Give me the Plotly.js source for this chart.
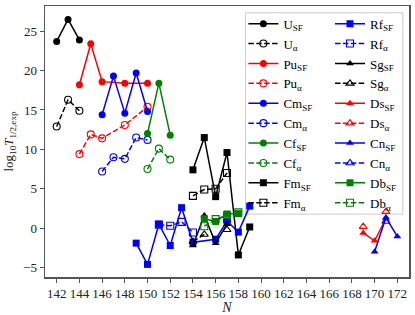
<!DOCTYPE html>
<html><head><meta charset="utf-8">
<script src="https://cdn.plot.ly/plotly-3.0.1.min.js"></script>
<style>html,body{margin:0;padding:0;background:#fff}#c{width:415px;height:315px}</style>
</head><body><div id="c"></div>
<script>
// Data
const N_U = [142,143,144];
const U_SF = [23.7,26.5,23.9];
const U_a = [12.9,16.3,14.9];
const N_Pu = [144,145,146,148,150];
const Pu_SF = [18.2,23.4,18.6,18.4,18.4];
const Pu_a = [9.4,11.9,11.4,13.1,15.4];
const N_Cm = [146,147,148,149,150];
const Cm_SF = [14.4,19.3,14.6,19.7,14.8];
const Cm_a = [7.2,9.0,8.8,11.5,11.2];
const N_Cf = [150,151,152];
const Cf_SF = [12.0,18.4,11.8];
const Cf_a = [7.5,10.1,8.7];
const N_Fm_SF = [154,155,156,157,158,159];
const Fm_SF = [7.4,11.5,4.0,9.6,-3.4,0.15];
const N_Fm_a = [154,155,156,157];
const Fm_a = [4.1,4.9,5.0,7.0];
const N_Rf_SF = [149,150,151,152,153,154,156,157,158,159];
const Rf_SF = [-1.9,-4.6,0.5,-2.2,2.6,-1.8,-1.4,0.9,-0.5,2.8];
const N_Rf_a = [151,152,153,154,155,156,157];
const Rf_a = [0.45,0.3,0.8,-0.55,null,null,1.2];
const N_Sg = [154,155,156,157];
const Sg_SF = [-2.2,1.6,-1.9,0.5];
const Sg_a = [-1.7,-0.8,null,-0.2];
const N_Ds = [169,170,171];
const Ds_SF = [-0.6,-1.6,1.2];
const Ds_a = [0.2,null,2.1];
const N_Cn_SF = [170,171,172];
const Cn_SF = [-3.0,1.35,-1.05];
const N_Cn_a = [171];
const Cn_a = [0.85];
const N_Db = [155,156,157,158];
const Db_SF = [1.2,0.85,1.8,1.85];
const Db_a = [0.25,1.15,1.6,2.0];
const xTicks = [142,144,146,148,150,152,154,156,158,160,162,164,166,168,170,172];
const yTicks = [-5,0,5,10,15,20,25];

const FONT = 'Liberation Serif, DejaVu Serif, serif';
const DASH = '5.5px,2.4px';
function tr(x, y, name, color, sym, alpha, legend){
  return {
    x: x, y: y, name: name, type: 'scatter', mode: 'lines+markers',
    connectgaps: false, legend: legend,
    line: {color: color, width: 1.5, dash: alpha ? DASH : 'solid'},
    marker: alpha ? {symbol: sym + '-open', size: 7, color: color, line: {color: color, width: 1.1}}
                  : {symbol: sym, size: 7, color: color, line: {width: 0}}
  };
}
const K='#000000', R='#ff0000', B='#0000ff', G='#008000';
const data = [
  tr(N_U, U_SF, 'U<sub>SF</sub>', K, 'circle', false, 'legend'),
  tr(N_U, U_a, 'U<sub>α</sub>', K, 'circle', true, 'legend'),
  tr(N_Pu, Pu_SF, 'Pu<sub>SF</sub>', R, 'circle', false, 'legend'),
  tr(N_Pu, Pu_a, 'Pu<sub>α</sub>', R, 'circle', true, 'legend'),
  tr(N_Cm, Cm_SF, 'Cm<sub>SF</sub>', B, 'circle', false, 'legend'),
  tr(N_Cm, Cm_a, 'Cm<sub>α</sub>', B, 'circle', true, 'legend'),
  tr(N_Cf, Cf_SF, 'Cf<sub>SF</sub>', G, 'circle', false, 'legend'),
  tr(N_Cf, Cf_a, 'Cf<sub>α</sub>', G, 'circle', true, 'legend'),
  tr(N_Fm_SF, Fm_SF, 'Fm<sub>SF</sub>', K, 'square', false, 'legend'),
  tr(N_Fm_a, Fm_a, 'Fm<sub>α</sub>', K, 'square', true, 'legend'),
  tr(N_Rf_SF, Rf_SF, 'Rf<sub>SF</sub>', B, 'square', false, 'legend2'),
  tr(N_Rf_a, Rf_a, 'Rf<sub>α</sub>', B, 'square', true, 'legend2'),
  tr(N_Sg, Sg_SF, 'Sg<sub>SF</sub>', K, 'triangle-up', false, 'legend2'),
  tr(N_Sg, Sg_a, 'Sg<sub>α</sub>', K, 'triangle-up', true, 'legend2'),
  tr(N_Ds, Ds_SF, 'Ds<sub>SF</sub>', R, 'triangle-up', false, 'legend2'),
  tr(N_Ds, Ds_a, 'Ds<sub>α</sub>', R, 'triangle-up', true, 'legend2'),
  tr(N_Cn_SF, Cn_SF, 'Cn<sub>SF</sub>', B, 'triangle-up', false, 'legend2'),
  tr(N_Cn_a, Cn_a, 'Cn<sub>α</sub>', B, 'triangle-up', true, 'legend2'),
  tr(N_Db, Db_SF, 'Db<sub>SF</sub>', G, 'square', false, 'legend2'),
  tr(N_Db, Db_a, 'Db<sub>α</sub>', G, 'square', true, 'legend2')
];
const legendCommon = {bgcolor: 'rgba(0,0,0,0)', borderwidth: 0, font: {family: FONT, size: 13, color: '#000'},
  xanchor: 'left', yanchor: 'top', traceorder: 'normal', itemwidth: 30, tracegroupgap: 0};
const axisCommon = {showgrid: false, zeroline: false, showline: true, mirror: true, linecolor: '#555', linewidth: 1.5,
  ticks: 'outside', ticklen: 4, tickwidth: 1, tickcolor: '#555', tickfont: {family: FONT, size: 13, color: '#222'}};
const layout = {
  width: 415, height: 315, margin: {l: 45, r: 6, t: 6, b: 38},
  paper_bgcolor: '#fff', plot_bgcolor: '#fff', showlegend: true,
  xaxis: Object.assign({}, axisCommon, {range: [140.97, 173.03], tickvals: xTicks,
    title: {text: '<i>N</i>', font: {family: FONT, size: 14, color: '#222'}, standoff: 2}}),
  yaxis: Object.assign({}, axisCommon, {range: [-6.2, 28.2], tickvals: yTicks,
    title: {text: 'log<sub>10</sub><i>T</i><sub>1/2,exp</sub>', font: {family: FONT, size: 13, color: '#222'}, standoff: 6}}),
  legend: Object.assign({}, legendCommon, {x: 0.545, y: 0.99}),
  legend2: Object.assign({}, legendCommon, {x: 0.783, y: 0.99}),
  shapes: [{type: 'rect', xref: 'paper', yref: 'paper', x0: 0.551, x1: 0.983, y0: 0.232, y1: 0.975,
    line: {color: '#cccccc', width: 1}, fillcolor: 'rgba(255,255,255,0.8)', layer: 'below'}]
};
Plotly.newPlot('c', data, layout, {displayModeBar: false, staticPlot: true});
</script></body></html>
